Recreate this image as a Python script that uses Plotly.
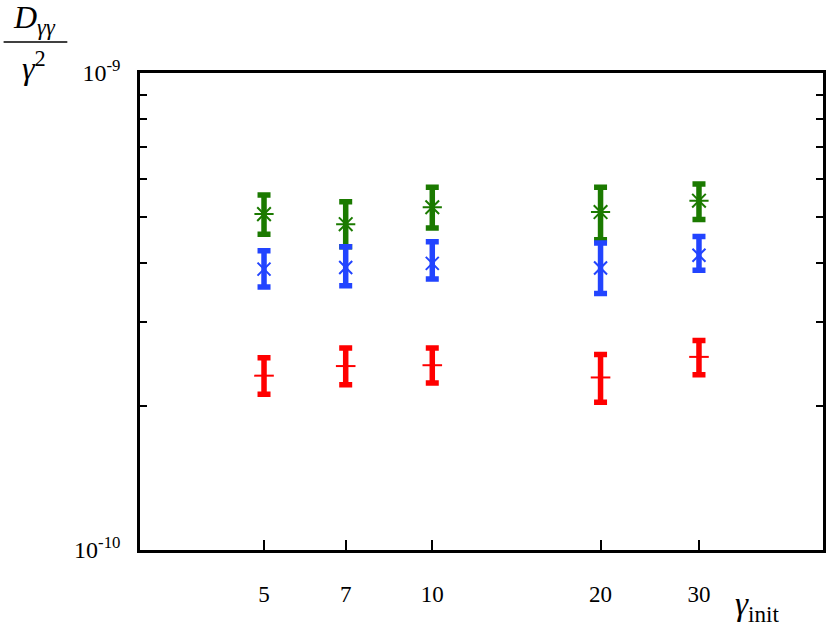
import plotly.graph_objects as go

gamma_init = [5, 7, 10, 20, 30]
x_ticktext = ["5", "7", "10", "20", "30"]

# values (D_gg / gamma^2), upper and lower ends of error bars
green_val = [5.06e-10, 4.82e-10, 5.23e-10, 5.11e-10, 5.40e-10]
green_hi = [5.55e-10, 5.37e-10, 5.76e-10, 5.76e-10, 5.85e-10]
green_lo = [4.59e-10, 4.32e-10, 4.73e-10, 4.47e-10, 4.93e-10]

blue_val = [3.88e-10, 3.91e-10, 3.99e-10, 3.90e-10, 4.15e-10]
blue_hi = [4.24e-10, 4.32e-10, 4.43e-10, 4.40e-10, 4.54e-10]
blue_lo = [3.56e-10, 3.58e-10, 3.70e-10, 3.45e-10, 3.86e-10]

red_val = [2.32e-10, 2.43e-10, 2.44e-10, 2.30e-10, 2.54e-10]
red_hi = [2.53e-10, 2.65e-10, 2.65e-10, 2.57e-10, 2.75e-10]
red_lo = [2.12e-10, 2.22e-10, 2.24e-10, 2.04e-10, 2.33e-10]

y_major = [1e-10, 1e-9]
y_major_text = ["10<sup>-10</sup>", "10<sup>-9</sup>"]
y_minor = [2e-10, 3e-10, 4e-10, 5e-10, 6e-10, 7e-10, 8e-10, 9e-10]

GREEN = "#1b7a00"
BLUE = "#2244ff"
RED = "#ff0000"
FONT = "Liberation Serif, Times New Roman, serif"

fig = go.Figure()

def add_series(val, hi, lo, color, symbol, size):
    fig.add_trace(go.Scatter(
        x=gamma_init, y=val, mode="markers",
        marker=dict(symbol=symbol, size=size, color=color,
                    line=dict(color=color, width=2)),
        error_y=dict(type="data", symmetric=False,
                     array=[h - v for h, v in zip(hi, val)],
                     arrayminus=[v - l for v, l in zip(val, lo)],
                     color=color, thickness=5.5, width=6.5),
        showlegend=False,
    ))

add_series(green_val, green_hi, green_lo, GREEN, "asterisk-open", 16)
add_series(blue_val, blue_hi, blue_lo, BLUE, "x-thin-open", 13)
add_series(red_val, red_hi, red_lo, RED, "line-ew-open", 14)

fig.update_layout(
    width=831, height=629,
    margin=dict(l=140, r=5, t=73, b=79),
    paper_bgcolor="white", plot_bgcolor="white",
    font=dict(family=FONT, size=23, color="black"),
    xaxis=dict(
        type="log", range=[0.4771, 1.699],
        tickmode="array", tickvals=gamma_init, ticktext=x_ticktext,
        tickfont=dict(family=FONT, size=23, color="black"),
        ticks="inside", ticklen=10, tickwidth=2, tickcolor="black",
        showline=True, linewidth=2.5, linecolor="black", mirror=True,
        showgrid=False, zeroline=False, ticklabelstandoff=22,
    ),
    yaxis=dict(
        type="log", range=[-10, -9],
        tickmode="array", tickvals=y_major, ticktext=y_major_text,
        tickfont=dict(family=FONT, size=24, color="black"),
        ticks="inside", ticklen=7, tickwidth=2, tickcolor="black",
        minor=dict(tickmode="array", tickvals=y_minor, ticks="inside",
                   ticklen=7, tickwidth=2, tickcolor="black", showgrid=False),
        showline=True, linewidth=2.5, linecolor="black", mirror="ticks",
        showgrid=False, zeroline=False, ticklabelstandoff=12,
    ),
)

# y-axis title as a fraction D_gg / gamma^2 (positions in page px -> paper)
def px(xp):
    return (xp - 140) / 686

def py(yp):
    return (550 - yp) / 477

fig.add_annotation(xref="paper", yref="paper", x=px(34), y=py(19),
                   text="<i>D</i><sub><i>γγ</i></sub>", showarrow=False,
                   font=dict(family=FONT, size=32), xanchor="center", yanchor="middle")
fig.add_shape(type="line", xref="paper", yref="paper",
              x0=px(3), x1=px(67), y0=py(42), y1=py(42),
              line=dict(color="black", width=1.5))
fig.add_annotation(xref="paper", yref="paper", x=px(34), y=py(66),
                   text="<i>γ</i><sup>2</sup>", showarrow=False,
                   font=dict(family=FONT, size=32), xanchor="center", yanchor="middle")

# x-axis title
fig.add_annotation(xref="paper", yref="paper", x=px(760), y=py(606),
                   text="<i>γ</i><sub>init</sub>", showarrow=False,
                   font=dict(family=FONT, size=33), xanchor="center", yanchor="middle")

fig.write_html(
    "out.html",
    config={"displayModeBar": False},
    post_script="document.body.style.margin='0';document.body.style.overflow='hidden';",
)
